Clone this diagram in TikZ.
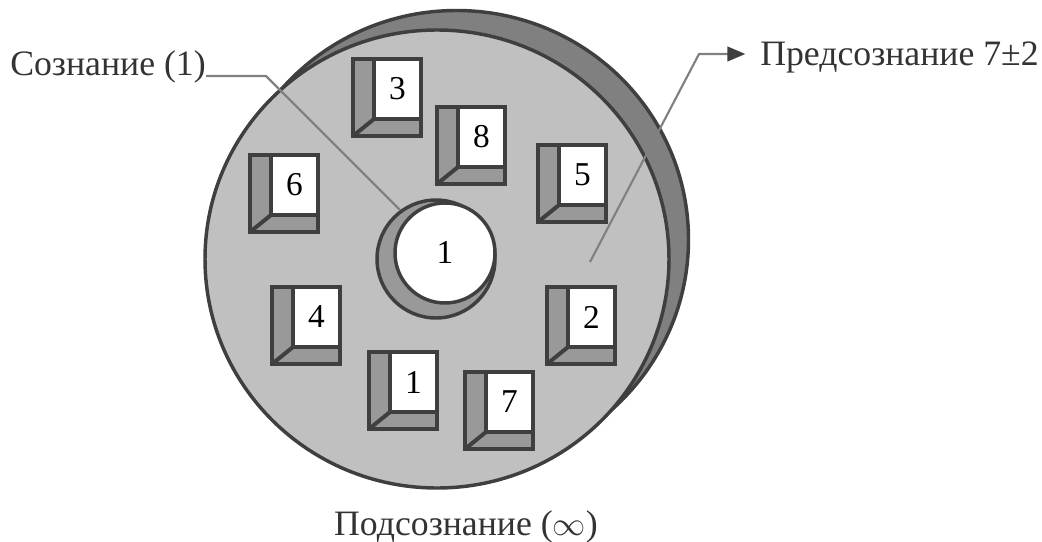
\documentclass[tikz,border=0pt]{standalone}
\usepackage{fontspec}
\setmainfont{Liberation Serif}
\usetikzlibrary{arrows.meta}
\definecolor{edgec}{HTML}{3F3F3F}
\definecolor{frontgray}{HTML}{C0C0C0}
\definecolor{backgray}{HTML}{808080}
\definecolor{sidegray}{HTML}{999999}
\definecolor{leadergray}{HTML}{808080}
\definecolor{txtc}{HTML}{333333}
\tikzset{
  diskline/.style={draw=edgec, line width=2.6pt},
  boxline/.style={draw=edgec, line width=3pt, line join=miter},
  leader/.style={draw=leadergray, line width=1.6pt},
  lbl/.style={inner sep=0pt, text=txtc, font=\fontsize{26.8}{30}\selectfont},
  numtext/.style={inner sep=0pt, text=black, font=\fontsize{25}{28}\selectfont},
  pics/cellbox/.style={code={
    \draw[boxline, fill=sidegray] (0,0) rectangle (68,77);
    \draw[boxline, fill=white] (21,0) rectangle (68,60);
    \draw[boxline] (21,60) -- (0,77);
    \node[numtext] (-num) at (44.5,30) {#1};
  }}
}
\begin{document}
\begin{tikzpicture}[x=0.75pt,y=-0.75pt]
\useasboundingbox (0,0) rectangle (1042,542);
% disks
\draw[diskline, fill=backgray] (456.5,239.5) ellipse [x radius=232, y radius=229];
\draw[diskline, fill=frontgray] (437,259) ellipse [x radius=232, y radius=229];
% boxes
\pic (b3) at (353,59) {cellbox=3};
\pic (b8) at (437,107) {cellbox=8};
\pic (b5) at (538,145) {cellbox=5};
\pic (b6) at (250,155) {cellbox=6};
\pic (b4) at (272,287) {cellbox=4};
\pic (b1) at (369,352) {cellbox=1};
\pic (b7) at (465,372) {cellbox=7};
\pic (b2) at (547,287) {cellbox=2};
% consciousness
\draw[diskline, fill=sidegray] (436,259) circle [radius=59];
\draw[diskline, fill=white] (445,253) circle [radius=50];
\node[numtext] (core) at (445,252) {1};
% labels
\node[lbl, anchor=base west] (soz) at (10,76) {Сознание (1)};
\node[lbl, anchor=base west] (pred) at (760,65) {Предсознание 7±2};
\node[lbl, anchor=base] (pod) at (466,535) {Подсознание (\(\infty\))};
% leader lines
\coordinate (s1) at (266,76);
\coordinate (s2) at (400,210);
\coordinate (p0) at (590,262);
\coordinate (p1) at (699,54);
\draw[leader] (soz.base east) -- (s1) -- (s2);
\draw[leader, -{Triangle[length=13.5pt, width=11pt, color=edgec]}, shorten >=11pt] (p0) -- (p1) -- (p1 -| pred.west);
\end{tikzpicture}
\end{document}
